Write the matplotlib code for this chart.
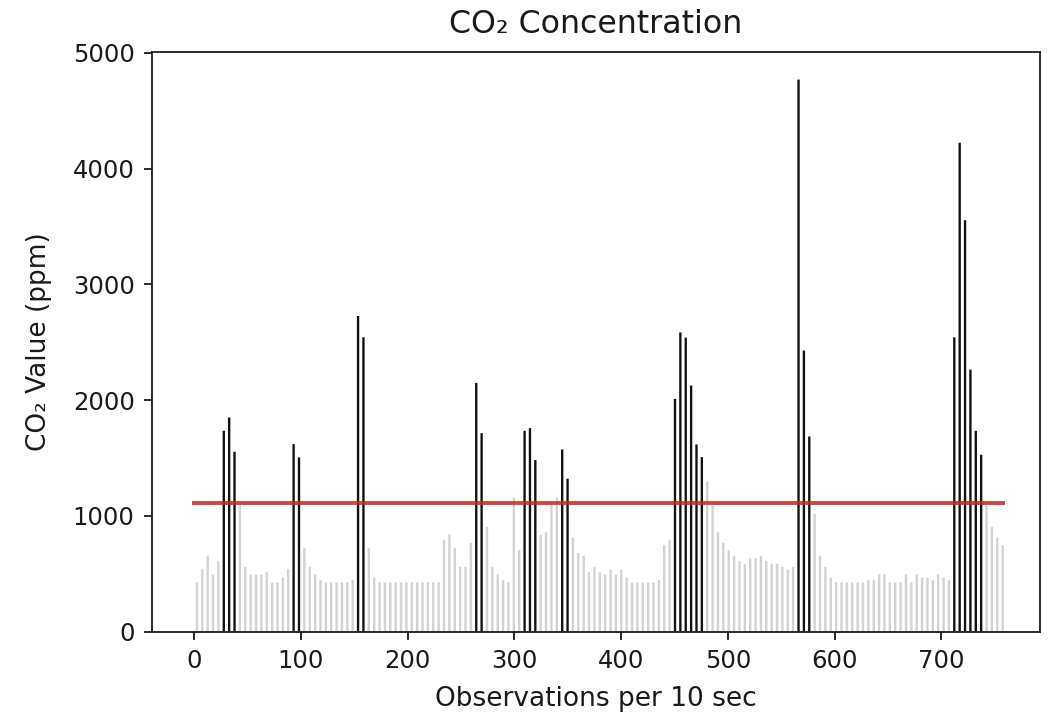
import numpy as np
import matplotlib
matplotlib.use("Agg")
import matplotlib.pyplot as plt

# ---- data ----
co2_values = [
    425, 540, 655, 494, 609, 1735, 1850, 1554, 1100, 560,
    494, 494, 494, 514, 425, 425, 468, 540, 1620, 1505,
    723, 560, 494, 447, 425, 425, 425, 425, 425, 447,
    2727, 2543, 723, 468, 425, 425, 425, 425, 425, 425,
    425, 425, 425, 425, 425, 425, 790, 839, 723, 560,
    560, 767, 2149, 1715, 905, 560, 494, 445, 425, 1158,
    706, 1735, 1758, 1482, 836, 859, 1106, 1158, 1574, 1321,
    813, 678, 655, 514, 560, 514, 494, 537, 494, 537,
    468, 425, 425, 425, 425, 425, 445, 747, 790, 2011,
    2585, 2540, 2126, 1617, 1508, 1298, 1091, 861, 767, 701,
    655, 609, 586, 632, 632, 655, 609, 586, 586, 560,
    537, 560, 4770, 2428, 1686, 1020, 655, 560, 468, 425,
    425, 425, 425, 425, 425, 445, 445, 494, 494, 425,
    425, 425, 494, 425, 494, 468, 468, 445, 494, 468,
    445, 2543, 4224, 3554, 2264, 1735, 1528, 1091, 905, 813,
    747,
]
first_obs = 2.5
last_obs = 757.5
highlight_threshold = 1310   # bars above this are drawn black
reference_level = 1111       # red horizontal line
line_start, line_end = 0, 757.5

title_text = "CO\u2082 Concentration"
xlabel_text = "Observations per 10 sec"
ylabel_text = "CO\u2082 Value (ppm)"
x_ticks = [0, 100, 200, 300, 400, 500, 600, 700]
y_ticks = [0, 1000, 2000, 3000, 4000, 5000]

# ---- figure ----
plt.rcParams['font.family'] = ['DejaVu Sans']
W, H = 1058, 715
fig = plt.figure(figsize=(W / 100, H / 100), dpi=100)
ax = fig.add_axes([152 / W, (H - 631.6) / H, 888 / W, 579.6 / H])

values = np.array(co2_values, dtype=float)
xpos = np.linspace(first_obs, last_obs, len(values))
colors = ['#111111' if v > highlight_threshold else '#d2d2d2' for v in values]

ax.bar(xpos, values, width=2.2, color=colors, linewidth=0, snap=False, zorder=2)
ax.plot([line_start, line_end], [reference_level, reference_level],
        color='#c0282a', lw=2.8, alpha=0.85, zorder=3)

ax.set_xlim(-39.6, 792.5)
ax.set_ylim(0, 5008)
ax.set_xticks(x_ticks)
ax.set_yticks(y_ticks)

txt = '#1a1a1a'
ax.tick_params(axis='both', labelsize=17.5, length=6, width=1.3,
               colors='#1a1a1a', labelcolor=txt, pad=6.5)
for s in ax.spines.values():
    s.set_linewidth(1.3)
    s.set_color('#1a1a1a')

ax.set_title(title_text, fontsize=22.8, color=txt, pad=14)
ax.set_xlabel(xlabel_text, fontsize=19, color=txt, va='top')
ax.set_ylabel(ylabel_text, fontsize=19, color=txt)
ax.xaxis.set_label_coords(0.5, -(686 - 631.6) / 579.6)
ax.yaxis.set_label_coords((52 - 152) / 888, 0.5)

fig.savefig("out.png", dpi=100)
